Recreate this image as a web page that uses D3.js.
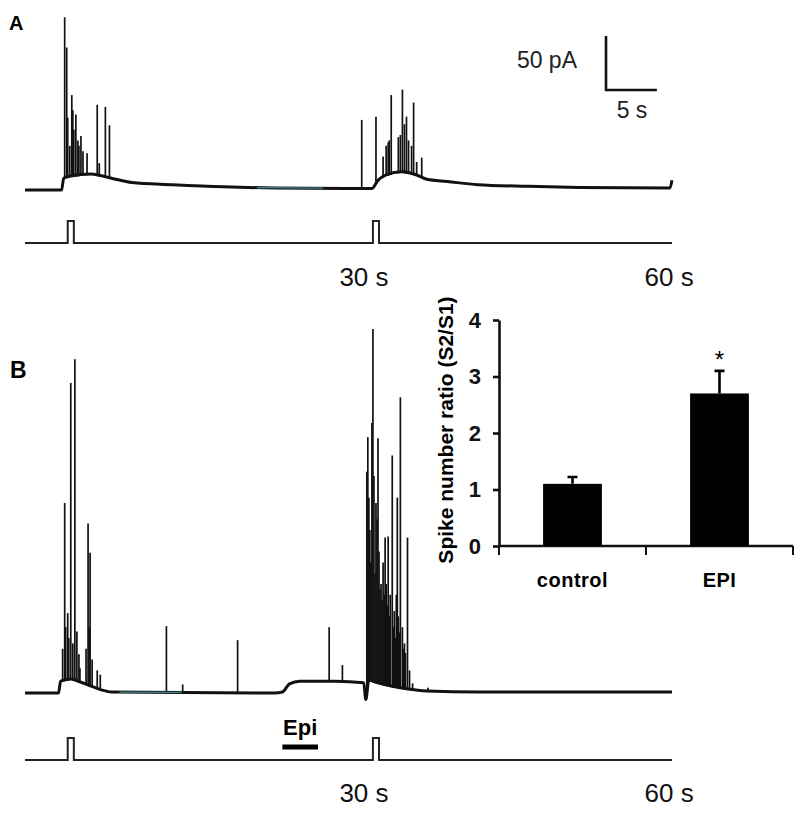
<!DOCTYPE html>
<html>
<head>
<meta charset="utf-8">
<script src="https://cdn.jsdelivr.net/npm/d3@7"></script>
<style>
  body { margin: 0; background: #fff; }
  text { font-family: "Liberation Sans", Arial, sans-serif; }
</style>
</head>
<body>
<div id="fig"></div>
<script>
// ---- trace data (time in s, current in pA above rest) ----
// slow current (baseline) keypoints, panel A
var baseA = [[-4.5,-1],[-0.9,-1],[-0.7,10],[0,12],[2,14],[4,10],[6,6],[10,4],[15,2],[20,1],
             [29.6,0.5],[30.2,8],[31,13],[32.5,16],[34,13],[35,9],[37,7],[40,4],[45,2.5],
             [50,1.5],[58.9,1],[59.1,8]];
// spike peaks, panel A: [time, peak]
var spikesA = [[-0.6,159],[-0.4,131],[-0.3,66],[-0.1,40],[0.1,87],[0.2,73],[0.3,55],[0.5,69],
               [0.7,45],[0.8,40],[1.0,49],[1.2,35],[1.6,33],[2.6,78],[2.8,24],[3.4,76],[3.8,59],
               [28.6,64],[30.0,67],[30.7,30],[31.0,40],[31.2,43],[31.3,45],[31.5,87],[32.2,48],
               [32.4,50],[32.6,92],[32.8,60],[33.0,67],[33.2,45],[33.5,40],[33.7,80],[34.0,25],[34.5,29]];
// slow current keypoints, panel B
var baseB = [[-4.5,-1],[-1.2,-1],[-1.0,10],[0,12],[1,9],[2,5.5],[3,2],[4,0],[20,-1],[20.8,0],
             [21.5,7.5],[22.5,10],[26,10],[28.8,8.5],[29.0,-7],[29.3,11],[30,9],[31.5,5.5],
             [33,3],[35,1],[40,0],[59.1,0]];
// spike peaks, panel B
var spikesB = [[-0.8,40],[-0.6,175],[-0.5,60],[-0.3,73],[-0.2,50],[0,286],[0.2,45],[0.4,308],
               [0.6,56],[0.8,35],[0.9,22],[1.5,40],[1.7,156],[1.8,60],[1.9,129],[2.1,30],[2.6,20],[2.9,16],
               [9.4,61],[11.0,7],[16.4,48],[25.4,60],[26.7,25],
               [29.1,204],[29.2,236],[29.3,180],[29.4,150],[29.5,120],[29.6,249],[29.7,336],[29.8,200],
               [29.9,110],[30.0,175],[30.1,160],[30.2,235],[30.3,130],[30.4,95],[30.5,100],[30.6,85],
               [30.7,120],[30.8,90],[30.9,143],[31.0,100],[31.1,80],[31.2,144],[31.3,70],[31.4,90],
               [31.6,219],[31.7,60],[31.8,75],[31.9,50],[32.0,90],[32.1,180],[32.2,70],[32.3,55],
               [32.4,273],[32.6,60],[32.7,40],[32.8,45],[32.9,36],[33.1,143],[33.3,20],[33.6,8],[35.1,4]];
var tealA = [18.3, 24.8];
var tealB = [4.8, 10.9];
var stimTimes = [0, 30];
var stimWidth = 0.6;
var epiWindow = [20.8, 24.3];
var timeLabels = [30, 60];

// ---- bar chart data ----
var barCats = ["control", "EPI"];
var barMeans = [1.1, 2.7];
var barErrs = [0.12, 0.4];
var barTicks = [0, 1, 2, 3, 4];

var svg = d3.select("#fig").append("svg")
    .attr("width", 800)
    .attr("height", 814);

var x = d3.scaleLinear().domain([-4.5, 59.1]).range([25, 672]);
var yA = d3.scaleLinear().domain([0, 160]).range([189, 16.2]);
var yB = d3.scaleLinear().domain([0, 320]).range([692, 346.4]);

function drawTrace(base, spikes, y, teal) {
    var g = svg.append("g");
    var baseAt = d3.scaleLinear()
        .domain(base.map(function(d) { return d[0]; }))
        .range(base.map(function(d) { return d[1]; }));

    g.selectAll(".spike")
        .data(spikes)
        .enter().append("line")
        .attr("class", "spike")
        .attr("x1", function(d) { return x(d[0]); })
        .attr("x2", function(d) { return x(d[0]); })
        .attr("y1", function(d) { return y(baseAt(d[0])) + 1; })
        .attr("y2", function(d) { return y(d[1]); })
        .style("stroke", "#111")
        .style("stroke-width", 1.7);

    g.append("path")
        .datum(base)
        .attr("d", d3.line()
            .x(function(d) { return x(d[0]); })
            .y(function(d) { return y(d[1]); })
            .curve(d3.curveMonotoneX))
        .style("fill", "none")
        .style("stroke", "#111")
        .style("stroke-width", 3)
        .style("stroke-linejoin", "round");

    // faint teal stretch on the baseline
    g.append("line")
        .attr("x1", x(teal[0])).attr("x2", x(teal[1]))
        .attr("y1", y(baseAt(teal[0]))).attr("y2", y(baseAt(teal[1])))
        .style("stroke", "#3f8c8a")
        .style("stroke-width", 1.2);
}

function drawStim(yLine, yTop) {
    var pts = [[x.range()[0], yLine]];
    stimTimes.forEach(function(t) {
        pts.push([x(t - stimWidth / 2), yLine], [x(t - stimWidth / 2), yTop],
                 [x(t + stimWidth / 2), yTop], [x(t + stimWidth / 2), yLine]);
    });
    pts.push([x.range()[1], yLine]);
    svg.append("path")
        .attr("d", d3.line()(pts))
        .style("fill", "none")
        .style("stroke", "#222")
        .style("stroke-width", 2);
}

function drawTimeLabels(yText) {
    svg.selectAll(null)
        .data(timeLabels)
        .enter().append("text")
        .attr("x", function(d) { return x(d) - 12; })
        .attr("y", yText)
        .attr("text-anchor", "middle")
        .style("font-size", "26px")
        .style("fill", "#111")
        .text(function(d) { return d + " s"; });
}

// panel A
svg.append("text").attr("x", 9).attr("y", 30)
    .style("font-size", "20px").style("font-weight", "bold").text("A");
drawTrace(baseA, spikesA, yA, tealA);
drawStim(243, 221);
drawTimeLabels(286);

// scale bar
var sbX = 606, sbY = 90;
svg.append("path")
    .attr("d", d3.line()([[sbX, sbY - (yA(0) - yA(50))], [sbX, sbY], [sbX + (x(5) - x(0)), sbY]]))
    .style("fill", "none")
    .style("stroke", "#111")
    .style("stroke-width", 2.6);
svg.append("text").attr("x", 577).attr("y", 68).attr("text-anchor", "end")
    .style("font-size", "23px").style("fill", "#222").text("50 pA");
svg.append("text").attr("x", 632).attr("y", 118).attr("text-anchor", "middle")
    .style("font-size", "23px").style("fill", "#222").text("5 s");

// panel B
svg.append("text").attr("x", 10).attr("y", 378)
    .style("font-size", "23px").style("font-weight", "bold").text("B");
drawTrace(baseB, spikesB, yB, tealB);
drawStim(760, 738);
drawTimeLabels(802);

// epinephrine application bar
svg.append("line")
    .attr("x1", x(epiWindow[0])).attr("x2", x(epiWindow[1]))
    .attr("y1", 747).attr("y2", 747)
    .style("stroke", "#000")
    .style("stroke-width", 5);
svg.append("text")
    .attr("x", (x(epiWindow[0]) + x(epiWindow[1])) / 2)
    .attr("y", 735)
    .attr("text-anchor", "middle")
    .style("font-size", "22px").style("font-weight", "bold")
    .text("Epi");

// ---- inset bar chart ----
var yBar = d3.scaleLinear().domain([0, 4]).range([546, 320]);
var xBar = d3.scaleBand().domain(barCats).range([499, 793]).padding(0);
var barW = xBar.bandwidth() * 0.4;

var yAxis = svg.append("g")
    .attr("transform", "translate(499,0)")
    .call(d3.axisLeft(yBar).tickValues(barTicks).tickSize(6).tickSizeOuter(0).tickPadding(12)
          .tickFormat(d3.format("d")));
yAxis.selectAll("path, line").style("stroke", "#111").style("stroke-width", 2.6);
yAxis.selectAll("text")
    .style("font-size", "22px").style("font-weight", "bold").style("fill", "#111")
    .style("font-family", "'Liberation Sans', Arial, sans-serif");

// x axis with ticks at band edges
svg.append("line")
    .attr("x1", xBar.range()[0]).attr("x2", xBar.range()[1])
    .attr("y1", yBar(0)).attr("y2", yBar(0))
    .style("stroke", "#111").style("stroke-width", 2.6);
var edges = barCats.map(function(c) { return xBar(c); }).concat([xBar.range()[1]]);
svg.selectAll(".xtick")
    .data(edges)
    .enter().append("line")
    .attr("class", "xtick")
    .attr("x1", function(d) { return d; }).attr("x2", function(d) { return d; })
    .attr("y1", yBar(0)).attr("y2", yBar(0) + 9)
    .style("stroke", "#111").style("stroke-width", 2);

var bars = barCats.map(function(c, i) { return { cat: c, mean: barMeans[i], err: barErrs[i] }; });

svg.selectAll(".bar")
    .data(bars)
    .enter().append("rect")
    .attr("class", "bar")
    .attr("x", function(d) { return xBar(d.cat) + (xBar.bandwidth() - barW) / 2; })
    .attr("y", function(d) { return yBar(d.mean); })
    .attr("width", barW)
    .attr("height", function(d) { return yBar(0) - yBar(d.mean); })
    .style("fill", "#000");

svg.selectAll(".err")
    .data(bars)
    .enter().append("path")
    .attr("class", "err")
    .attr("d", function(d) {
        var cx = xBar(d.cat) + xBar.bandwidth() / 2;
        return d3.line()([[cx, yBar(d.mean)], [cx, yBar(d.mean + d.err)],
                          [cx - 5, yBar(d.mean + d.err)], [cx + 5, yBar(d.mean + d.err)]]);
    })
    .style("fill", "none").style("stroke", "#000").style("stroke-width", 2.6);

svg.selectAll(".xlab")
    .data(barCats)
    .enter().append("text")
    .attr("class", "xlab")
    .attr("x", function(d) { return xBar(d) + xBar.bandwidth() / 2; })
    .attr("y", 587)
    .attr("text-anchor", "middle")
    .style("font-size", "20px").style("font-weight", "bold").style("letter-spacing", "0.5px")
    .text(function(d) { return d; });

// significance mark
svg.append("text")
    .attr("x", xBar("EPI") + xBar.bandwidth() / 2)
    .attr("y", yBar(barMeans[1] + barErrs[1]) - 3)
    .attr("text-anchor", "middle")
    .style("font-size", "24px")
    .text("*");

svg.append("text")
    .attr("transform", "translate(453,430) rotate(-90)")
    .attr("text-anchor", "middle")
    .style("font-size", "21px").style("font-weight", "bold")
    .text("Spike number ratio (S2/S1)");
</script>
</body>
</html>
